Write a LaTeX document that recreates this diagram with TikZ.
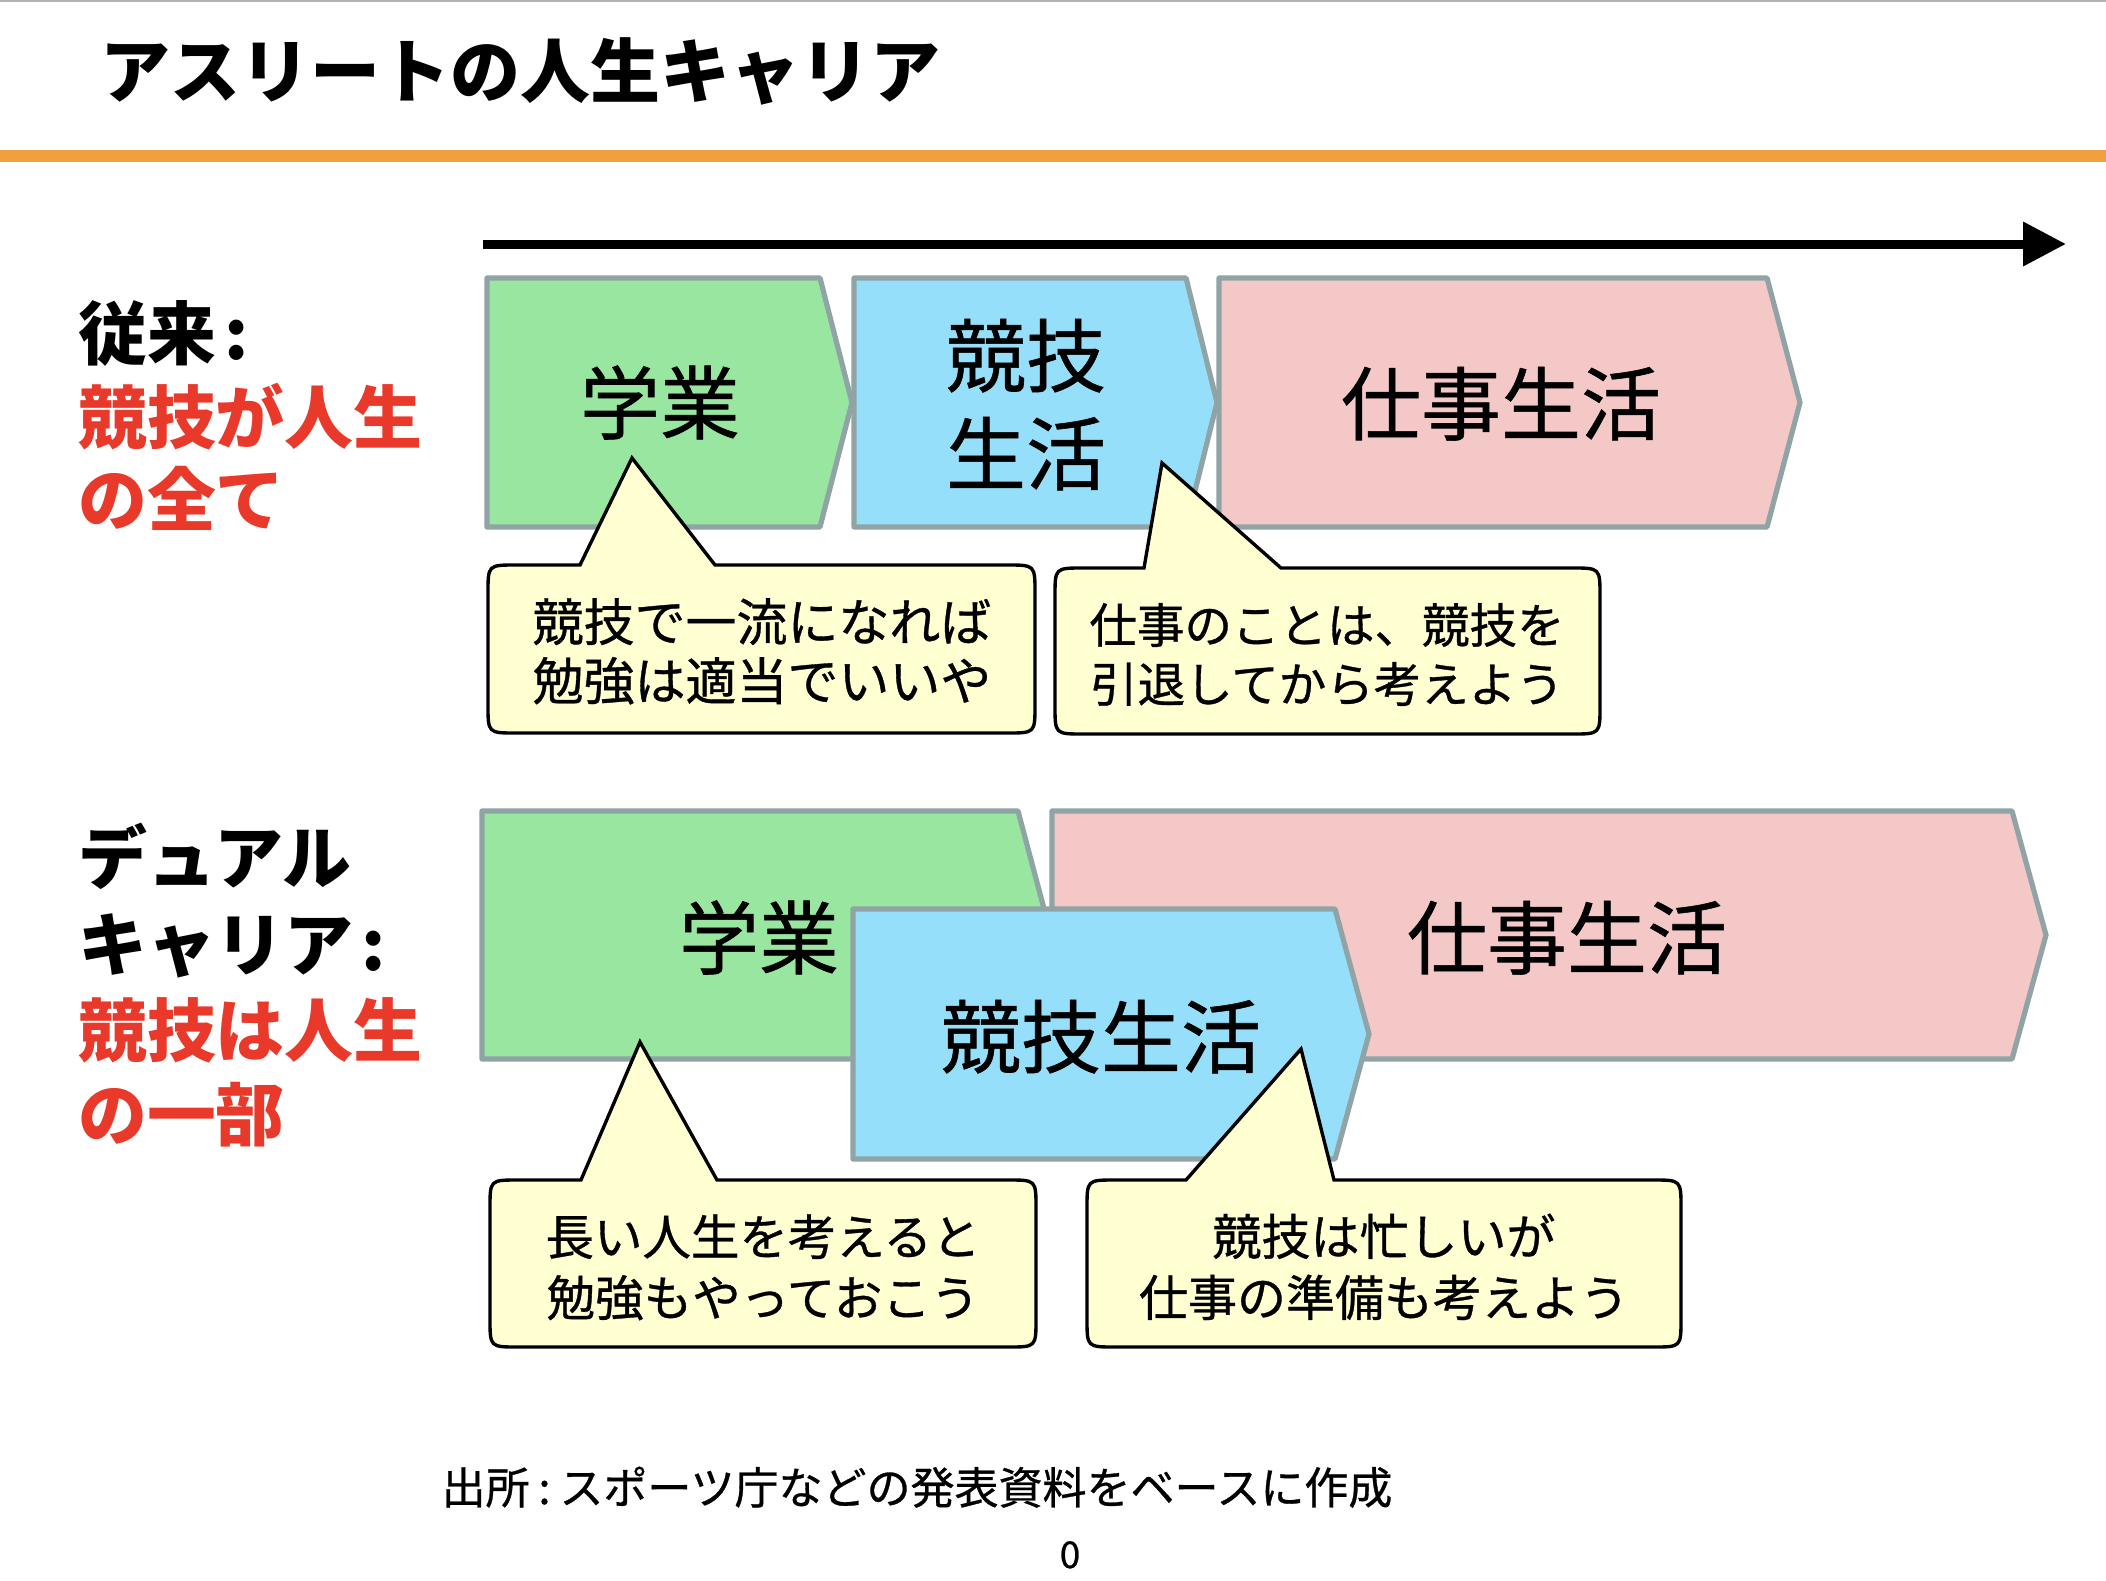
\documentclass[tikz,border=0pt]{standalone}
\usepackage{fontspec}
\setmainfont{Noto Sans CJK JP}
\newfontfamily\jpmid{Noto Sans CJK JP}[FakeBold=0.7]
\usetikzlibrary{arrows.meta}
\definecolor{cgreen}{RGB}{152,230,160}
\definecolor{cblue}{RGB}{150,223,250}
\definecolor{cpink}{RGB}{245,200,200}
\definecolor{cborder}{RGB}{144,164,166}
\definecolor{cnote}{RGB}{255,255,210}
\definecolor{cred}{RGB}{232,57,42}
\definecolor{corange}{RGB}{240,160,60}
\newcommand\chevshape[6]{\filldraw[chev, fill=#1] (#2,#3) -- (#4,#3) -- (#5,{(#3+#6)/2}) -- (#4,#6) -- (#2,#6) -- cycle;}
\newcommand\calloutshape[8]{\filldraw[callout] (#5,#2) -- (#7,#8) -- (#6,#2) -- ({#3-28},#2) .. controls (#3,#2) .. (#3,{#2+28}) -- (#3,{#4-28}) .. controls (#3,#4) .. ({#3-28},#4) -- ({#1+28},#4) .. controls (#1,#4) .. (#1,{#4-28}) -- (#1,{#2+28}) .. controls (#1,#2) .. ({#1+28},#2) -- cycle;}
\tikzset{
  chev/.style={draw=cborder, line width=7.4pt, line join=round},
  callout/.style={draw=black, fill=cnote, line width=4.8pt, line join=miter},
  titletext/.style={anchor=base west, inner sep=0pt, font=\fontsize{99.6pt}{110pt}\selectfont\bfseries},
  sidelabel/.style={anchor=base west, inner sep=0pt, font=\fontsize{98pt}{110pt}\selectfont\bfseries},
  redlabel/.style={sidelabel, text=cred},
  boxtext/.style={anchor=base, inner sep=0pt, font=\fontsize{113.8pt}{125pt}\jpmid\selectfont},
  notetext/.style={anchor=base, inner sep=0pt, font=\fontsize{#1}{80pt}\jpmid\selectfont},
  notetext/.default=69.7pt,
  foottext/.style={anchor=base, inner sep=0pt, font=\fontsize{62.6pt}{70pt}\jpmid\selectfont},
}
\begin{document}
\begin{tikzpicture}[x=0.05cm, y=-0.05cm]
\useasboundingbox (0,0) rectangle (2106,1580);
\fill[white] (0,0) rectangle (2106,1580);
% top rules
\draw[gray!60, line width=2.8pt] (0,1) -- (2106,1) coordinate (topR);
\draw[corange, line width=17pt] (0,156) -- (2106,156) coordinate (orR);
\node[titletext] (title) at (100,97) {アスリートの人生キャリア};
% time arrow
\coordinate (arrS) at (483,244);
\coordinate (arrE) at (2066,244);
\draw[line width=12.8pt, -{Triangle[length=61pt, width=60pt]}] (arrS) -- (arrE);
% side labels
\node[sidelabel] (l1) at (78,359) {従来\kern0.12em:};
\node[redlabel] (l2) at (78,443) {競技が人生};
\node[redlabel] (l3) at (78,525) {の全て};
\node[sidelabel] (l4) at (78,883) {デュアル};
\node[sidelabel] (l5) at (78,970) {キャリア\kern0.12em:};
\node[redlabel] (l6) at (78,1056) {競技は人生};
\node[redlabel] (l7) at (78,1140) {の一部};
% row 1 shapes
\chevshape{cgreen}{487}{278}{820}{852}{527}
\chevshape{cblue}{854}{278}{1186}{1217}{527}
\chevshape{cpink}{1219}{278}{1767}{1800}{527}
\node[boxtext] (r1a) at (660,433) {学業};
\node[boxtext] (r1b) at (1026,386) {競技};
\node[boxtext] (r1c) at (1026,484) {生活};
\node[boxtext] (r1d) at (1501,434) {仕事生活};
% row 2 shapes
\chevshape{cgreen}{482}{811}{1018}{1051}{1059}
\chevshape{cpink}{1052}{811}{2012}{2046}{1059}
\chevshape{cblue}{853}{909}{1335}{1369}{1159}
\node[boxtext] (r2a) at (759,968) {学業};
\node[boxtext] (r2b) at (1567,968) {仕事生活};
\node[boxtext] (r2c) at (1101,1067) {競技生活};
% callouts
\calloutshape{488}{565}{1035}{733}{580}{715}{632}{458}
\calloutshape{1055}{568}{1600}{734}{1144}{1281}{1162}{463}
\calloutshape{490}{1180}{1036}{1347}{581}{717}{640}{1042}
\calloutshape{1087}{1180}{1681}{1347}{1186}{1334}{1301}{1049}
\node[notetext=72.5pt] (c1a) at (762,641) {競技で一流になれば};
\node[notetext=72.5pt] (c1b) at (762,700) {勉強は適当でいいや};
\node[notetext=67.6pt] (c2a) at (1327,643) {仕事のことは、競技を};
\node[notetext=67.6pt] (c2b) at (1327,702) {引退してから考えよう};
\node[notetext=69pt] (c3a) at (763,1255) {長い人生を考えると};
\node[notetext=69pt] (c3b) at (763,1316) {勉強もやっておこう};
\node[notetext=69.7pt] (c4a) at (1384,1255) {競技は忙しいが};
\node[notetext=69.7pt] (c4b) at (1384,1316) {仕事の準備も考えよう};
% footer
\node[foottext] (src) at (917,1504) {出所\kern0.2em:\kern0.2emスポーツ庁などの発表資料をベースに作成};
\node[anchor=base, inner sep=0pt, font=\fontsize{52.6pt}{60pt}\jpmid\selectfont] (pg) at (1070,1568) {0};
\end{tikzpicture}
\end{document}
